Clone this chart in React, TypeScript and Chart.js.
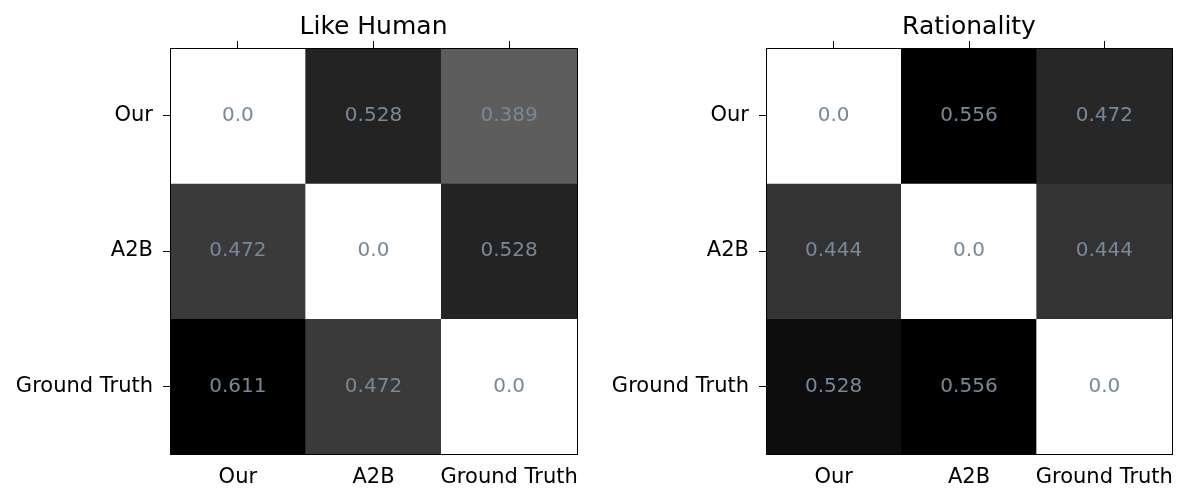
import React, { useEffect, useRef } from 'react';
import { Chart, registerables } from 'chart.js';

Chart.register(...registerables);

const categories = ['Our', 'A2B', 'Ground Truth'];

const likeHumanOur = [0.0, 0.528, 0.389];
const likeHumanA2B = [0.472, 0.0, 0.528];
const likeHumanGroundTruth = [0.611, 0.472, 0.0];

const rationalityOur = [0.0, 0.556, 0.472];
const rationalityA2B = [0.444, 0.0, 0.444];
const rationalityGroundTruth = [0.528, 0.556, 0.0];

const FONT = "'DejaVu Sans', sans-serif";

function grayFor(v: number, max: number): string {
  const g = Math.round(255 * (1 - v / max));
  return `rgb(${g},${g},${g})`;
}

function fmt(v: number): string {
  return Number.isInteger(v) ? v.toFixed(1) : String(v);
}

function Heatmap({ title, matrix, padRight }: { title: string; matrix: number[][]; padRight: number }) {
  const ref = useRef<HTMLCanvasElement | null>(null);

  useEffect(() => {
    if (!ref.current) return;
    const max = Math.max(...matrix.flat());
    const datasets = matrix.map((row, r) => ({
      label: categories[r],
      data: row.map(() => [r - 0.5, r + 0.5]),
      backgroundColor: row.map((v) => grayFor(v, max)),
      borderWidth: 0,
      barPercentage: 1,
      categoryPercentage: 1,
      grouped: false,
    }));

    const annot = {
      id: 'annot',
      afterDatasetsDraw(chart: any) {
        const ctx = chart.ctx;
        ctx.save();
        ctx.font = `20px ${FONT}`;
        ctx.fillStyle = '#778899';
        ctx.textAlign = 'center';
        ctx.textBaseline = 'middle';
        matrix.forEach((row, di) => {
          chart.getDatasetMeta(di).data.forEach((el: any, i: number) => {
            const { x, y, base } = el.getProps(['x', 'y', 'base'], true);
            ctx.fillText(fmt(row[i]), x, (y + base) / 2);
          });
        });
        ctx.restore();
      },
    };

    const titlePlugin = {
      id: 'panelTitle',
      afterDraw(chart: any) {
        const ctx = chart.ctx;
        const a = chart.chartArea;
        ctx.save();
        ctx.font = `25px ${FONT}`;
        ctx.fillStyle = '#000';
        ctx.textAlign = 'center';
        ctx.textBaseline = 'middle';
        ctx.fillText(title, (a.left + a.right) / 2, 27);
        ctx.restore();
      },
    };

    const border = { display: true, color: '#000', width: 1, z: 2 };

    const chart = new Chart(ref.current, {
      type: 'bar',
      data: { labels: categories, datasets: datasets as any },
      options: {
        animation: false,
        responsive: false,
        maintainAspectRatio: false,
        layout: { padding: { left: 0, right: padRight, top: 40, bottom: 10 } },
        plugins: {
          legend: { display: false },
          tooltip: { enabled: false },
          title: { display: false },
        },
        scales: {
          x: {
            type: 'category',
            position: 'bottom',
            offset: true,
            grid: { display: true, drawOnChartArea: false, drawTicks: false, offset: false, z: 1 },
            border,
            ticks: { color: '#000', font: { family: FONT, size: 21 }, padding: 11, maxRotation: 0, autoSkip: false, z: 1 },
            afterFit: (s: any) => { s.height = 40; },
          },
          xTop: {
            type: 'category',
            position: 'top',
            offset: true,
            labels: categories,
            grid: { display: true, drawOnChartArea: false, drawTicks: true, tickLength: 7, tickColor: '#000', tickWidth: 1, offset: false, z: 1 },
            border,
            ticks: { display: false },
            afterFit: (s: any) => { s.height = 8; },
          },
          y: {
            type: 'linear',
            position: 'left',
            min: -0.5,
            max: 2.5,
            reverse: true,
            afterBuildTicks: (s: any) => { s.ticks = categories.map((_, i) => ({ value: i })); },
            grid: { display: true, drawOnChartArea: false, drawTicks: true, tickLength: 7, tickColor: '#000', tickWidth: 1, z: 1 },
            border,
            ticks: { color: '#000', font: { family: FONT, size: 21 }, padding: 10, callback: (v: any) => categories[v], z: 1 },
            afterFit: (s: any) => { s.width = 170; },
          },
          yRight: {
            type: 'linear',
            position: 'right',
            min: -0.5,
            max: 2.5,
            reverse: true,
            grid: { display: true, drawOnChartArea: false, drawTicks: false, z: 1 },
            border,
            ticks: { display: false },
            afterFit: (s: any) => { s.width = 0; },
          },
        } as any,
      },
      plugins: [annot, titlePlugin],
    });
    return () => chart.destroy();
  }, []);

  return <canvas ref={ref} width={596} height={504} style={{ display: 'block', width: 596, height: 504 }} />;
}

export default function App() {
  return (
    <div style={{ position: 'absolute', left: 0, top: 0, width: 1192, height: 504, display: 'flex', background: '#fff' }}>
      <Heatmap title="Like Human" matrix={[likeHumanOur, likeHumanA2B, likeHumanGroundTruth]} padRight={19} />
      <Heatmap title="Rationality" matrix={[rationalityOur, rationalityA2B, rationalityGroundTruth]} padRight={20} />
    </div>
  );
}
